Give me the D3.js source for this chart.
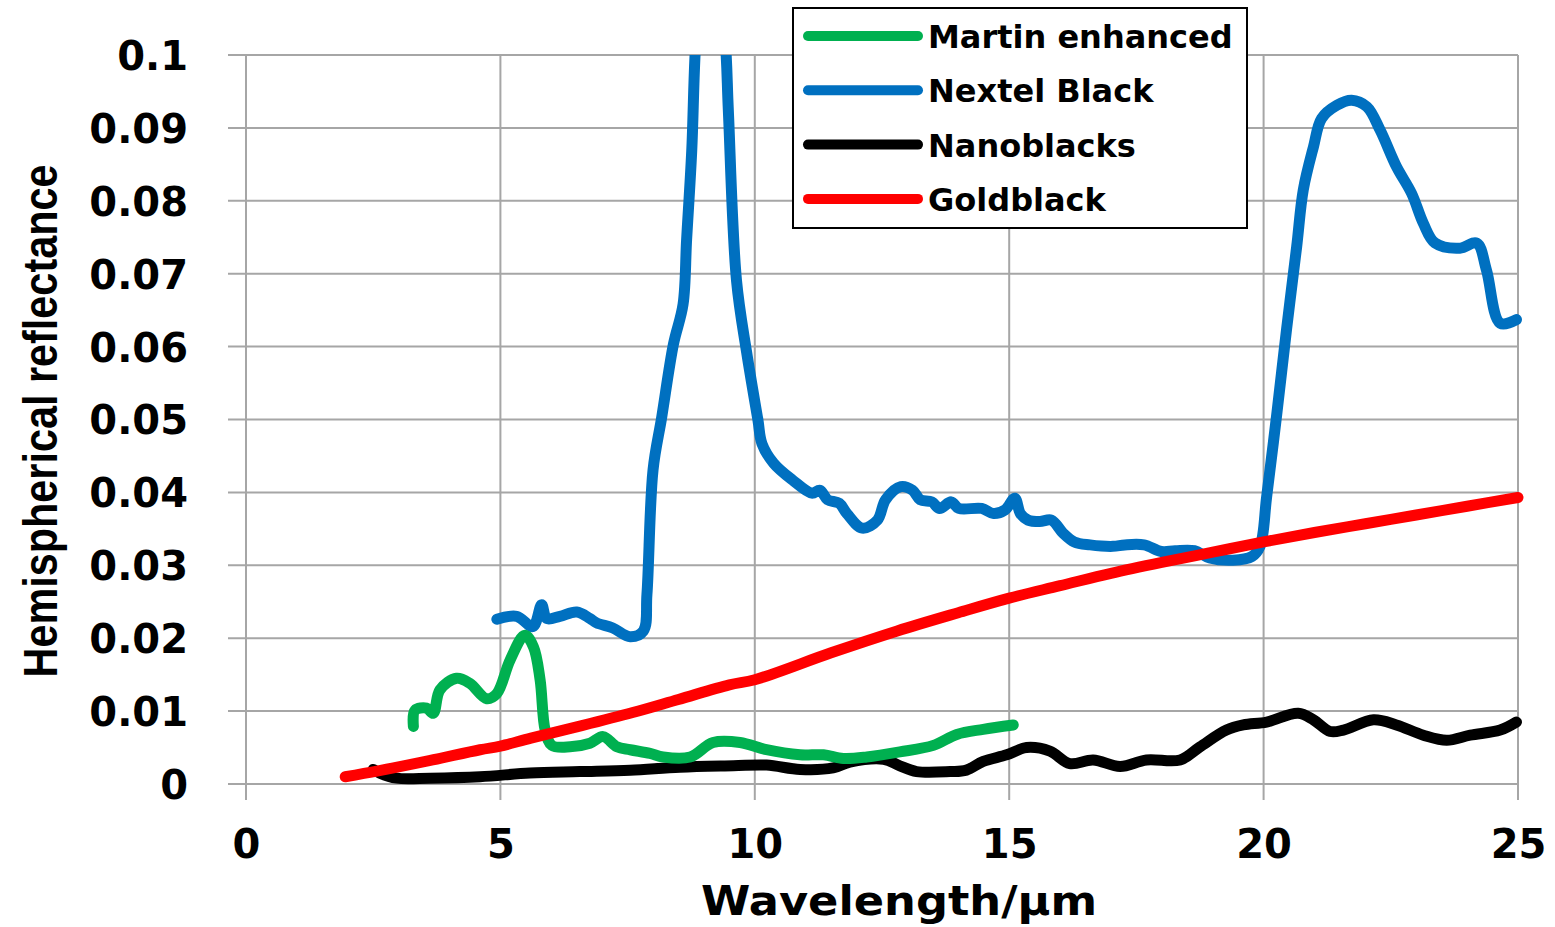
<!DOCTYPE html>
<html>
<head>
<meta charset="utf-8">
<title>Hemispherical reflectance</title>
<script src="https://d3js.org/d3.v7.min.js"></script>
<style>
  body { margin: 0; background: #fff; }
  .tick text { font-family: "DejaVu Sans", Verdana, sans-serif; font-weight: bold; font-size: 40px; fill: #000; }
  .grid line { stroke: #a6a6a6; stroke-width: 2px; }
  .series { fill: none; stroke-width: 11px; stroke-linecap: round; stroke-linejoin: round; }
</style>
</head>
<body>
<svg id="chart" width="1555" height="927"></svg>
<script>
// data: [wavelength um, reflectance]
var martin = [[3.29,0.0079],[3.32,0.0101],[3.55,0.0104],[3.68,0.0097],[3.81,0.0129],[4.14,0.0145],[4.40,0.0138],
  [4.73,0.0117],[4.93,0.0124],[5.19,0.0170],[5.48,0.0204],[5.65,0.0188],[5.78,0.0143],[5.88,0.0074],[6.01,0.0053],
  [6.37,0.0051],[6.76,0.0056],[7.02,0.0065],[7.29,0.0051],[7.55,0.0047],[7.94,0.0042],[8.20,0.0037],[8.73,0.0037],
  [9.18,0.0057],[9.71,0.0057],[10.23,0.0047],[10.89,0.0040],[11.35,0.0040],[11.74,0.0035],[12.20,0.0037],
  [12.85,0.0044],[13.51,0.0053],[13.97,0.0068],[14.49,0.0075],[15.08,0.0081]];

var nextel = [[4.93,0.0226],[5.32,0.0230],[5.64,0.0216],[5.81,0.0246],[5.91,0.0227],[6.17,0.0230],[6.50,0.0236],
  [6.76,0.0227],[6.89,0.0221],[7.21,0.0214],[7.55,0.0202],[7.81,0.0210],[7.88,0.0260],[8.00,0.0431],[8.17,0.0503],
  [8.40,0.0603],[8.59,0.0658],[8.66,0.0747],[8.76,0.0868],[8.84,0.1020],[9.10,0.1250],[9.42,0.1020],[9.48,0.0924],
  [9.64,0.0691],[9.84,0.0592],[10.06,0.0500],[10.14,0.0467],[10.37,0.0440],[10.74,0.0417],[11.12,0.0399],
  [11.28,0.0403],[11.43,0.0390],[11.66,0.0385],[11.81,0.0371],[12.11,0.0351],[12.41,0.0362],[12.57,0.0390],
  [12.87,0.0408],[13.10,0.0403],[13.25,0.0390],[13.48,0.0387],[13.63,0.0378],[13.86,0.0387],[14.01,0.0378],
  [14.46,0.0378],[14.69,0.0371],[14.92,0.0376],[15.11,0.0392],[15.22,0.0371],[15.37,0.0362],[15.60,0.0360],
  [15.83,0.0362],[16.06,0.0344],[16.28,0.0332],[16.59,0.0328],[17.04,0.0326],[17.27,0.0328],[17.65,0.0328],
  [17.99,0.0319],[18.26,0.0320],[18.64,0.0320],[18.94,0.0310],[19.40,0.0307],[19.77,0.0312],[19.93,0.0326],
  [20.06,0.0394],[20.26,0.0508],[20.45,0.0623],[20.65,0.0737],[20.78,0.0815],[20.98,0.0874],[21.14,0.0913],
  [21.44,0.0931],[21.73,0.0938],[22.03,0.0929],[22.29,0.0897],[22.61,0.0847],[22.91,0.0810],[23.14,0.0769],
  [23.37,0.0742],[23.86,0.0735],[24.19,0.0742],[24.38,0.0705],[24.65,0.0632],[24.97,0.0637]];

var nano = [[2.50,0.0020],[2.63,0.0015],[2.96,0.0008],[3.62,0.0008],[4.60,0.0010],[5.58,0.0015],[6.56,0.0017],
  [7.55,0.0019],[8.53,0.0023],[9.58,0.0025],[10.23,0.0026],[10.89,0.0020],[11.54,0.0022],[11.87,0.0030],
  [12.53,0.0034],[12.85,0.0025],[13.18,0.0017],[13.84,0.0017],[14.16,0.0019],[14.49,0.0031],[14.95,0.0040],
  [15.34,0.0050],[15.80,0.0045],[16.19,0.0028],[16.65,0.0033],[17.18,0.0024],[17.70,0.0033],[18.36,0.0033],
  [18.75,0.0051],[19.27,0.0074],[19.60,0.0081],[20.06,0.0085],[20.68,0.0097],[20.98,0.0088],[21.31,0.0072],
  [21.57,0.0074],[22.16,0.0088],[22.61,0.0081],[23.14,0.0067],[23.60,0.0060],[24.06,0.0067],[24.65,0.0074],
  [24.97,0.0085]];

var gold = [[1.95,0.0010],[2.6,0.0018],[3.6,0.0032],[4.6,0.0047],[5.0,0.0052],[5.6,0.0063],[6.6,0.0080],
  [7.6,0.0098],[8.5,0.0116],[9.5,0.0136],[10.0,0.0143],[11.5,0.0180],[12.8,0.0210],[14.0,0.0235],[15.0,0.0255],
  [16.0,0.0272],[17.0,0.0289],[18.0,0.0304],[19.0,0.0318],[20.0,0.0332],[21.0,0.0345],[22.0,0.0357],
  [23.0,0.0369],[24.0,0.0381],[25.0,0.0393]];

var seriesNames = ["Martin enhanced", "Nextel Black", "Nanoblacks", "Goldblack"];
var seriesColors = ["#00b050", "#0070c0", "#000000", "#ff0000"];
var seriesData = [martin, nextel, nano, gold];
var xTicks = [0, 5, 10, 15, 20, 25];
var yTicks = [0, 0.01, 0.02, 0.03, 0.04, 0.05, 0.06, 0.07, 0.08, 0.09, 0.1];

var margin = {top: 55, right: 37, bottom: 143, left: 246};
var svg = d3.select("#chart");
var width = 1555 - margin.left - margin.right,
    height = 927 - margin.top - margin.bottom;

var g = svg.append("g").attr("transform", "translate(" + margin.left + "," + margin.top + ")");

var x = d3.scaleLinear().domain([0, 25]).range([0, width]);
var y = d3.scaleLinear().domain([0, 0.1]).range([height, 0]);

// gridlines
g.append("g").attr("class", "grid")
  .selectAll("line.h").data(yTicks).enter().append("line")
  .attr("x1", -18).attr("x2", width)
  .attr("y1", function(d) { return y(d); }).attr("y2", function(d) { return y(d); });
g.append("g").attr("class", "grid")
  .selectAll("line.v").data(xTicks).enter().append("line")
  .attr("x1", function(d) { return x(d); }).attr("x2", function(d) { return x(d); })
  .attr("y1", 0).attr("y2", height + 16);

// axes (labels only, lines come from the grid)
var yAxis = g.append("g")
  .call(d3.axisLeft(y).tickValues(yTicks).tickSize(0).tickPadding(58).tickFormat(d3.format("~g")));
yAxis.select(".domain").remove();
yAxis.selectAll("text").attr("dy", "0.36em");

var xAxis = g.append("g").attr("transform", "translate(0," + height + ")")
  .call(d3.axisBottom(x).tickValues(xTicks).tickSize(0).tickPadding(46));
xAxis.select(".domain").remove();
xAxis.selectAll("text").attr("dy", "0.71em");

// axis titles
svg.append("text")
  .attr("x", margin.left + width / 2 + 17).attr("y", 915)
  .attr("text-anchor", "middle")
  .attr("textLength", 396).attr("lengthAdjust", "spacingAndGlyphs")
  .style("font-family", "'DejaVu Sans', Verdana, sans-serif").style("font-weight", "bold").style("font-size", "40px")
  .text("Wavelength/µm");

svg.append("text")
  .attr("transform", "translate(57,421) rotate(-90)")
  .attr("text-anchor", "middle")
  .attr("textLength", 513).attr("lengthAdjust", "spacingAndGlyphs")
  .style("font-family", "'Liberation Sans Narrow', 'Liberation Sans', Arial, sans-serif")
  .style("font-weight", "bold").style("font-size", "48px")
  .text("Hemispherical reflectance");

// clip at the top of the plot area
svg.append("defs").append("clipPath").attr("id", "plotclip")
  .append("rect").attr("x", -20).attr("y", 0).attr("width", width + 40).attr("height", height + 20);

var line = d3.line()
  .x(function(d) { return x(d[0]); })
  .y(function(d) { return y(d[1]); })
  .curve(d3.curveCatmullRom.alpha(0.5));

var lines = g.append("g").attr("clip-path", "url(#plotclip)");
[2, 1, 0, 3].forEach(function(i) {
  lines.append("path").attr("class", "series")
    .attr("d", line(seriesData[i]))
    .attr("stroke", seriesColors[i]);
});

// legend
var lg = svg.append("g").attr("transform", "translate(793,8)");
lg.append("rect").attr("width", 454).attr("height", 220)
  .attr("fill", "#fff").attr("stroke", "#000").attr("stroke-width", 2);
var items = lg.selectAll("g.item").data(seriesNames).enter().append("g")
  .attr("transform", function(d, i) { return "translate(0," + (28 + i * 54.3) + ")"; });
items.append("line").attr("x1", 15).attr("x2", 125).attr("y1", 0).attr("y2", 0)
  .attr("stroke", function(d, i) { return seriesColors[i]; })
  .attr("stroke-width", 10).attr("stroke-linecap", "round");
items.append("text").attr("x", 135).attr("y", 12)
  .style("font-family", "'DejaVu Sans', Verdana, sans-serif").style("font-weight", "bold").style("font-size", "32px")
  .text(function(d) { return d; });
</script>
</body>
</html>
